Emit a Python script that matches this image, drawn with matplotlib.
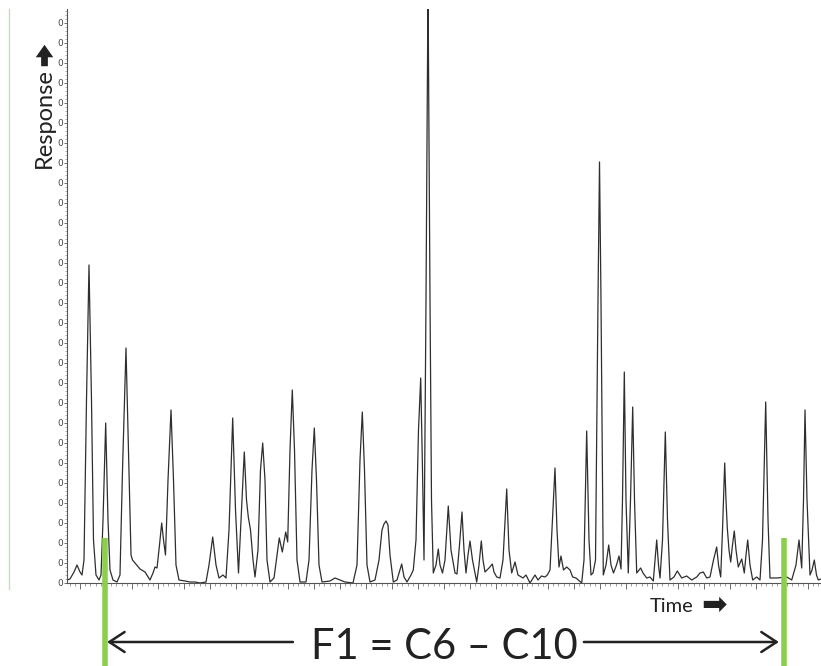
import numpy as np
import matplotlib
matplotlib.use('Agg')
import matplotlib.pyplot as plt
from matplotlib.lines import Line2D
from matplotlib.patches import FancyArrowPatch
from matplotlib.ticker import MultipleLocator

plt.rcParams['font.family'] = ['Lato', 'DejaVu Sans']

###############################################################################
# chromatogram trace (time in min, response)

time = [0.5, 0.615, 0.769, 0.885, 1.0, 1.077, 1.154, 1.25, 1.346, 1.442,
        1.519, 1.615, 1.731, 1.808, 1.885, 1.988, 2.077, 2.154, 2.269, 2.423,
        2.538, 2.635, 2.769, 2.885, 2.962, 3.019, 3.115, 3.308, 3.5, 3.692,
        3.808, 3.885, 3.962, 4.058, 4.142, 4.212, 4.288, 4.385, 4.5, 4.596,
        4.692, 4.808, 5.038, 5.231, 5.423, 5.615, 5.846, 5.962, 6.104, 6.231,
        6.346, 6.5, 6.615, 6.731, 6.873, 6.981, 7.096, 7.192, 7.319, 7.404,
        7.473, 7.558, 7.654, 7.731, 7.846, 7.942, 8.027, 8.115, 8.192, 8.308,
        8.462, 8.577, 8.665, 8.781, 8.912, 8.988, 9.077, 9.165, 9.25, 9.346,
        9.462, 9.692, 9.808, 9.923, 10.012, 10.096, 10.192, 10.308, 10.615, 10.808,
        11.0, 11.192, 11.5, 11.654, 11.769, 11.858, 11.942, 12.038, 12.154, 12.346,
        12.5, 12.615, 12.692, 12.769, 12.846, 12.923, 13.05, 13.192, 13.373, 13.462,
        13.577, 13.731, 13.819, 13.923, 14.019, 14.104, 14.173, 14.231, 14.308, 14.385,
        14.462, 14.519, 14.588, 14.692, 14.781, 14.846, 14.942, 15.038, 15.165, 15.269,
        15.423, 15.5, 15.596, 15.692, 15.769, 15.846, 15.923, 16.0, 16.096, 16.258,
        16.346, 16.435, 16.5, 16.577, 16.731, 16.858, 16.923, 17.027, 17.154, 17.269,
        17.412, 17.5, 17.604, 17.731, 17.846, 18.038, 18.154, 18.308, 18.5, 18.615,
        18.75, 18.885, 18.973, 19.077, 19.173, 19.269, 19.346, 19.423, 19.5, 19.596,
        19.719, 19.846, 19.95, 20.077, 20.296, 20.385, 20.488, 20.577, 20.654, 20.731,
        20.827, 20.923, 20.981, 21.038, 21.127, 21.231, 21.335, 21.423, 21.519, 21.635,
        21.731, 21.808, 21.865, 21.935, 22.0, 22.088, 22.173, 22.258, 22.327, 22.412,
        22.565, 22.654, 22.796, 22.923, 23.05, 23.115, 23.181, 23.25, 23.308, 23.404,
        23.512, 23.596, 23.692, 23.846, 23.973, 24.142, 24.335, 24.527, 24.719, 24.846,
        24.973, 25.104, 25.231, 25.365, 25.488, 25.558, 25.642, 25.712, 25.796, 25.846,
        25.896, 25.962, 26.027, 26.096, 26.165, 26.231, 26.319, 26.45, 26.55, 26.615,
        26.681, 26.769, 26.873, 27.027, 27.154, 27.25, 27.373, 27.462, 27.538, 27.796,
        28.181, 28.373, 28.538, 28.654, 28.758, 28.827, 28.885, 28.962, 29.077, 29.154,
        29.242, 29.327, 29.396, 29.5]

response = [0.15, 0.2, 0.55, 0.9, 0.55, 0.4, 1.15, 9.15, 15.9, 9.15,
            2.15, 0.4, 0.15, 0.4, 3.15, 8.0, 3.15, 0.65, 0.15, 0.05,
            0.4, 5.65, 11.75, 5.65, 1.4, 1.15, 1.0, 0.7, 0.55, 0.15,
            0.5, 0.8, 0.75, 1.9, 3.0, 2.15, 1.4, 5.15, 8.65, 5.15,
            0.9, 0.15, 0.1, 0.05, 0.05, 0.0, 0.05, 0.9, 2.3, 0.9,
            0.25, 0.4, 0.25, 2.65, 8.25, 3.65, 0.5, 3.15, 6.55, 4.15,
            3.3, 2.65, 1.15, 0.3, 1.65, 5.65, 7.0, 5.15, 1.15, 0.05,
            0.25, 1.4, 2.25, 1.55, 2.55, 2.05, 6.65, 9.65, 6.65, 1.15,
            0.05, 0.05, 1.15, 5.65, 7.75, 5.15, 0.9, 0.05, 0.1, 0.25,
            0.15, 0.05, 0.0, 0.9, 6.15, 8.55, 5.65, 0.9, 0.05, 0.15,
            1.15, 2.65, 2.95, 3.1, 2.9, 1.4, 0.05, 0.15, 0.95, 0.3,
            0.05, 0.4, 0.65, 2.15, 7.65, 10.25, 5.65, 1.15, 14.15, 30.0,
            14.15, 4.15, 0.5, 0.9, 1.7, 0.9, 0.5, 1.15, 3.85, 1.65,
            0.5, 0.45, 1.9, 3.55, 1.65, 0.5, 1.4, 2.1, 1.15, 0.05,
            0.9, 2.1, 1.15, 0.55, 0.75, 0.95, 0.55, 0.3, 0.25, 1.15,
            4.7, 1.65, 0.5, 1.05, 0.4, 0.25, 0.4, 0.0, 0.4, 0.15,
            0.35, 0.3, 0.4, 0.65, 3.15, 5.75, 2.65, 0.8, 1.35, 0.65,
            0.8, 0.65, 0.3, 0.25, 0.0, 1.15, 7.6, 2.15, 0.4, 0.5,
            1.15, 14.15, 21.05, 14.15, 0.4, 0.9, 1.9, 0.9, 0.5, 0.9,
            1.35, 0.7, 4.15, 10.55, 4.15, 0.5, 4.15, 8.8, 4.15, 0.5,
            0.75, 0.5, 0.25, 0.3, 0.1, 1.15, 2.15, 0.9, 0.25, 2.15,
            7.55, 3.15, 0.15, 0.3, 0.6, 0.25, 0.35, 0.15, 0.3, 0.5,
            0.55, 0.25, 0.3, 1.15, 1.8, 0.9, 0.3, 2.65, 6.0, 4.15,
            2.75, 1.65, 1.05, 1.9, 2.6, 1.65, 0.8, 1.2, 0.5, 1.4,
            2.15, 0.9, 0.15, 0.3, 0.15, 2.15, 9.05, 3.15, 0.25, 0.25,
            0.3, 0.15, 0.9, 2.15, 0.75, 4.15, 8.65, 4.15, 0.4, 0.65,
            1.15, 0.4, 0.15, 0.2]

# F1 fraction cut points (C6 and C10)
cut_times = [1.98, 28.06]
cut_top = 2.25

big_title = 'F1 = C6 \u2013 C10'

###############################################################################

fig = plt.figure(figsize=(8.21, 6.66), dpi=100)
ax = fig.add_axes([67/821., 1 - 583/666., 1 - 67/821., (583 - 9)/666.])

ax.plot(time, response, color='#2e2e2e', linewidth=0.9)

ax.set_xlim(0.5, 29.5)
ax.set_ylim(0, 28.7)

for s in ['top', 'right']:
    ax.spines[s].set_visible(False)
for s in ['left', 'bottom']:
    ax.spines[s].set_color('#555555')
    ax.spines[s].set_linewidth(0.8)

ax.xaxis.set_major_locator(MultipleLocator(1))
ax.xaxis.set_minor_locator(MultipleLocator(0.2))
ax.yaxis.set_major_locator(MultipleLocator(1))
ax.yaxis.set_minor_locator(MultipleLocator(0.2))
ax.tick_params(axis='x', which='major', length=4, width=0.6, color='#555555', labelbottom=False)
ax.tick_params(axis='x', which='minor', length=2.2, width=0.5, color='#777777')
ax.tick_params(axis='y', which='major', length=2, width=0.6, color='#555555',
               labelsize=6.5, labelcolor='#444444', pad=1)
ax.tick_params(axis='y', which='minor', length=1.2, width=0.4, color='#777777')
ax.set_yticks(np.arange(0, 29))
ax.set_yticklabels(['0'] * 29, family='DejaVu Sans')

# thin green frame line on the left
fig.add_artist(Line2D([8.5/821., 8.5/821.], [1 - 589/666., 1 - 9/666.],
                      color='#bfe3b4', linewidth=1.0))

# green cut markers and the F1 arrows
for t in cut_times:
    ax.plot([t, t], [cut_top, -4.3], color='#8ccf4d', linewidth=4, clip_on=False,
            solid_capstyle='butt', zorder=5)

arrow_y = -2.95
aprops = dict(arrowstyle='->, head_length=0.55, head_width=0.36', color='#222222',
              linewidth=1.8, mutation_scale=20, shrinkA=0, shrinkB=0)
ax.annotate('', xy=(2.04, arrow_y), xytext=(9.19, arrow_y), arrowprops=aprops,
            annotation_clip=False)
ax.annotate('', xy=(27.88, arrow_y), xytext=(20.38, arrow_y), arrowprops=aprops,
            annotation_clip=False)
ax.text(15.0, -3.8, big_title, fontsize=30, color='#222222', ha='center', va='baseline',
        clip_on=False)

ax.text(22.92, -1.45, 'Time', fontsize=14.5, color='#222222', ha='left',
        va='baseline', clip_on=False)
fig.text(713.5/821., 1 - 605/666., '\u27a1', fontsize=22, color='#222222',
         ha='center', va='center', family='DejaVu Sans')
fig.text(44/821., 1 - 118/666., 'Response', rotation=90, fontsize=17,
         color='#222222', ha='center', va='center')

# heavy arrow above the Response label
fig.add_artist(FancyArrowPatch((44.5/821., 1 - 69/666.), (44.5/821., 1 - 42/666.),
                               transform=fig.transFigure, color='#222222', linewidth=0,
                               arrowstyle='simple, head_length=0.5, head_width=0.7, tail_width=0.27',
                               mutation_scale=18))

plt.savefig('out.png', dpi=100)
plt.close()
